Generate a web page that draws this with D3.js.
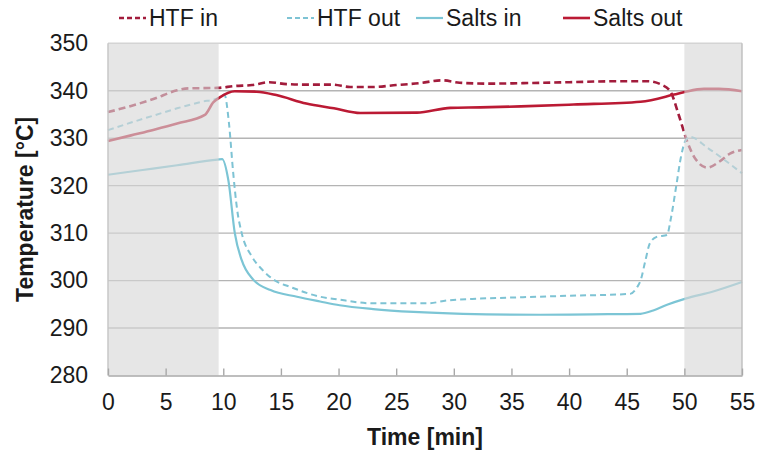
<!DOCTYPE html>
<html>
<head>
<meta charset="utf-8">
<script src="https://cdn.jsdelivr.net/npm/d3@7"></script>
<style>
  body { margin: 0; background: #fff; }
  svg text { font-family: "Liberation Sans", Arial, sans-serif; fill: #1a1a1a; }
</style>
</head>
<body>
<div class="chart"></div>
<script>
// time [min], temperature [°C]
const htfIn = [[0,335.5],[2,336.8],[4,338.3],[6,340.1],[7,340.5],[9.5,340.6],[11,341.0],[12.5,341.2],[14,341.8],[15.5,341.4],[17,341.3],[19.5,341.3],[21,340.8],[23,340.8],[25,341.2],[27,341.6],[29,342.2],[30.5,341.7],[33,341.5],[36,341.6],[40,341.8],[44,342.0],[46.8,342.0],[48,341.3],[48.8,339.8],[49.5,335],[50.2,329.6],[51,325.5],[52,323.8],[53,325],[54,326.8],[55,327.5]];
const htfOut = [[0,331.7],[2,333.3],[4,334.8],[6,336.3],[8,337.6],[9.7,338.6],[10.1,339.2],[10.5,333],[10.85,323],[11.2,315],[11.6,310],[12.5,305],[13.3,302.5],[14.3,300.3],[16,298.5],[18.4,296.6],[20,296],[23,295.2],[27.7,295.2],[29.4,295.8],[32.3,296.2],[36,296.5],[40,296.8],[45.3,297.2],[45.9,298.6],[46.2,300],[46.6,304],[47,307.8],[47.6,309.2],[48.5,309.6],[48.8,312.7],[49.3,320],[49.7,326],[50.1,329.5],[50.5,330.3],[52,328],[55,322.6]];
const saltsIn = [[0,322.3],[3,323.3],[6,324.3],[9.5,325.5],[9.9,325.6],[10.45,321],[11,310],[11.6,304.3],[12.6,300.2],[14.1,298],[16.4,296.6],[18.4,295.6],[20.1,294.8],[23,294],[26.5,293.4],[30.8,293],[37.5,292.8],[42,292.9],[46.2,293],[47.3,293.7],[48.5,294.9],[50.1,296.2],[52.5,297.7],[55,299.7]];
const saltsOut = [[0,329.4],[2,330.6],[4,331.8],[6,333.1],[8.4,334.9],[9.15,337.6],[9.7,338.6],[11,339.9],[12.9,339.8],[14.6,339.1],[17.2,337.3],[19.6,336.3],[21.9,335.3],[26.8,335.4],[29.7,336.4],[32.3,336.5],[35.8,336.7],[40.4,337.1],[46.2,337.7],[49.1,339.2],[50.1,339.8],[51.7,340.4],[53,340.4],[55,339.9]];

const xTicks = [0,5,10,15,20,25,30,35,40,45,50,55];
const yTicks = [280,290,300,310,320,330,340,350];
// shaded (transient) periods
const shaded = [[0,9.6],[50,55]];

const series = [
  { name: 'HTF in', data: htfIn, color: '#a21c3c', width: 2.6, dash: '7,4' },
  { name: 'HTF out', data: htfOut, color: '#7ec3d4', width: 2, dash: '6,4' },
  { name: 'Salts in', data: saltsIn, color: '#7cc5d5', width: 2.2, dash: null },
  { name: 'Salts out', data: saltsOut, color: '#bb1a34', width: 2.6, dash: null }
];

const width = 761, height = 451;
const margin = { top: 43.3, right: 19, bottom: 75.5, left: 108 };
const innerWidth = width - margin.left - margin.right;
const innerHeight = height - margin.top - margin.bottom;

const svg = d3.select('.chart').append('svg')
  .attr('width', width)
  .attr('height', height);

const g = svg.append('g')
  .attr('transform', `translate(${margin.left}, ${margin.top})`);

const x = d3.scaleLinear().domain([0, 55]).range([0, innerWidth]);
const y = d3.scaleLinear().domain([280, 350]).range([innerHeight, 0]);

// grid
g.append('g')
  .selectAll('line')
  .data(yTicks.slice(1, -1))
  .enter()
  .append('line')
  .attr('x1', 0)
  .attr('x2', innerWidth)
  .attr('y1', d => y(d))
  .attr('y2', d => y(d))
  .attr('stroke', '#b4b4b4')
  .attr('stroke-width', 1.4);

const line = d3.line()
  .x(d => x(d[0]))
  .y(d => y(d[1]))
  .curve(d3.curveMonotoneX);

g.append('g')
  .selectAll('path')
  .data(series)
  .enter()
  .append('path')
  .attr('d', d => line(d.data))
  .attr('fill', 'none')
  .attr('stroke', d => d.color)
  .attr('stroke-width', d => d.width)
  .attr('stroke-dasharray', d => d.dash);

// shading drawn over the lines so they look faded
g.append('g')
  .selectAll('rect')
  .data(shaded)
  .enter()
  .append('rect')
  .attr('x', d => x(d[0]))
  .attr('width', d => x(d[1]) - x(d[0]))
  .attr('y', 0)
  .attr('height', innerHeight)
  .attr('fill', '#d6d6d6')
  .attr('opacity', 0.62);

// frame
g.append('line').attr('x1', 0).attr('x2', innerWidth).attr('y1', 0).attr('y2', 0)
  .attr('stroke', '#d4d4d4').attr('stroke-width', 1.4);
g.append('line').attr('x1', innerWidth).attr('x2', innerWidth).attr('y1', 0).attr('y2', innerHeight)
  .attr('stroke', '#bdbdbd').attr('stroke-width', 1.4);
g.append('line').attr('x1', 0).attr('x2', 0).attr('y1', 0).attr('y2', innerHeight)
  .attr('stroke', '#c4c4c4').attr('stroke-width', 1.4);

// x axis, ticks pointing inside
const xAxis = g.append('g')
  .attr('transform', `translate(0, ${innerHeight})`)
  .call(d3.axisBottom(x).tickValues(xTicks).tickSizeInner(-7).tickSizeOuter(0).tickPadding(18));
xAxis.select('.domain').attr('stroke', '#a8a8a8').attr('stroke-width', 1.6);
xAxis.selectAll('.tick line').attr('stroke', '#a8a8a8').attr('stroke-width', 1.4);
xAxis.selectAll('.tick text')
  .attr('font-size', 23)
  .attr('font-family', '"Liberation Sans", Arial, sans-serif')
  .attr('fill', '#1a1a1a');

// y axis labels only
const yAxis = g.append('g')
  .call(d3.axisLeft(y).tickValues(yTicks).tickSize(0).tickPadding(20));
yAxis.select('.domain').remove();
yAxis.selectAll('.tick text')
  .attr('font-size', 23)
  .attr('font-family', '"Liberation Sans", Arial, sans-serif')
  .attr('fill', '#1a1a1a');

// axis titles
svg.append('text')
  .attr('x', margin.left + innerWidth / 2)
  .attr('y', 445)
  .attr('text-anchor', 'middle')
  .attr('font-size', 23)
  .attr('font-weight', 'bold')
  .text('Time [min]');

svg.append('text')
  .attr('transform', `translate(33, ${margin.top + innerHeight / 2}) rotate(-90)`)
  .attr('text-anchor', 'middle')
  .attr('font-size', 23)
  .attr('font-weight', 'bold')
  .text('Temperature [°C]');

// legend
const legendX = [119, 287, 416, 563];
const legend = svg.append('g')
  .selectAll('g')
  .data(series)
  .enter()
  .append('g')
  .attr('transform', (d, i) => `translate(${legendX[i]}, 18)`);

legend.append('line')
  .attr('x1', 0)
  .attr('x2', 27)
  .attr('stroke', d => d.color)
  .attr('stroke-width', d => d.width)
  .attr('stroke-dasharray', d => d.dash ? '5,3' : null);

legend.append('text')
  .attr('x', 30)
  .attr('dy', '0.35em')
  .attr('font-size', 23)
  .text(d => d.name);
</script>
</body>
</html>
